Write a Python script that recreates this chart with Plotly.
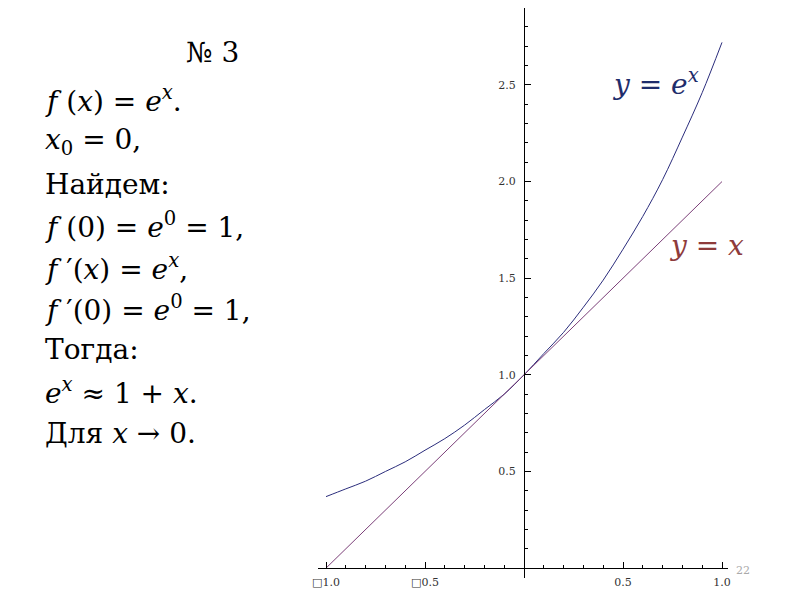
import plotly.graph_objects as go

# ---- data ----
x_vals = [-1.0, -0.9, -0.8, -0.7, -0.6, -0.5, -0.4, -0.3, -0.2, -0.1, 0.0,
          0.1, 0.2, 0.3, 0.4, 0.5, 0.6, 0.7, 0.8, 0.9, 1.0]
exp_vals = [0.37, 0.41, 0.45, 0.50, 0.55, 0.61, 0.67, 0.74, 0.82, 0.90, 1.00,
            1.11, 1.22, 1.35, 1.49, 1.65, 1.82, 2.01, 2.23, 2.46, 2.72]
tangent_x = [-1.0, 1.0]
tangent_y = [0.0, 2.0]

x_tickvals = [-1.0, -0.5, 0.5, 1.0]
x_ticktext = ["\u25a11.0", "\u25a10.5", "0.5", "1.0"]
y_tickvals = [0.5, 1.0, 1.5, 2.0, 2.5]
y_ticktext = ["0.5", "1.0", "1.5", "2.0", "2.5"]

text_lines = [
    "<i>f</i> (<i>x</i>) = <i>e</i><sup><i>x</i></sup>.",
    "<i>x</i><sub>0</sub> = 0,",
    "Найдем:",
    "<i>f</i> (0) = <i>e</i><sup>0</sup> = 1,",
    "<i>f</i> \u2032(<i>x</i>) = <i>e</i><sup><i>x</i></sup>,",
    "<i>f</i> \u2032(0) = <i>e</i><sup>0</sup> = 1,",
    "Тогда:",
    "<i>e</i><sup><i>x</i></sup> \u2248 1 + <i>x</i>.",
    "Для <i>x</i> \u2192 0.",
]
text_y_px = [99, 141, 184, 226, 267, 308, 349, 391, 433]

# the page body has an 8px margin, so the figure starts at (8, 8) on screen
OFF = 8
W, H = 800 - OFF, 600 - OFF
SERIF = "DejaVu Serif"


def px(xs):
    return (xs - OFF) / W


def py(ys):
    return 1 - (ys - OFF) / H


# axis geometry (screen pixels)
xr = [-1.0404, 1.0303]
xdom = [px(318), px(728)]
yr = [-0.05, 2.898]
ydom = [py(577.8), 1.0]

xaxis_pos = ydom[0] + (0 - yr[0]) / (yr[1] - yr[0]) * (ydom[1] - ydom[0])
yaxis_pos = xdom[0] + (0 - xr[0]) / (xr[1] - xr[0]) * (xdom[1] - xdom[0])

fig = go.Figure()
fig.add_trace(go.Scatter(x=x_vals, y=exp_vals, mode="lines", line_shape="spline",
                         line=dict(color="#2b2d7c", width=1), hoverinfo="skip"))
fig.add_trace(go.Scatter(x=tangent_x, y=tangent_y, mode="lines",
                         line=dict(color="#7b3f78", width=1), hoverinfo="skip"))

tickfont = dict(family=SERIF, size=11, color="#333333")
fig.update_layout(
    width=W, height=H,
    margin=dict(l=0, r=0, t=0, b=0, autoexpand=False),
    paper_bgcolor="white", plot_bgcolor="white",
    showlegend=False,
    xaxis=dict(range=xr, domain=xdom, anchor="free", position=xaxis_pos, automargin=False,
               showgrid=False, zeroline=False, showline=True, linecolor="black", linewidth=1,
               tickmode="array", tickvals=x_tickvals, ticktext=x_ticktext,
               ticks="inside", ticklen=6, tickcolor="black", tickwidth=1,
               tickfont=tickfont, ticklabelstandoff=4,
               minor=dict(tick0=0, dtick=0.1, ticks="inside", ticklen=3,
                          tickcolor="black", showgrid=False)),
    yaxis=dict(range=yr, domain=ydom, anchor="free", position=yaxis_pos, automargin=False,
               showgrid=False, zeroline=False, showline=True, linecolor="black", linewidth=1,
               tickmode="array", tickvals=y_tickvals, ticktext=y_ticktext,
               ticks="inside", ticklen=6, tickcolor="black", tickwidth=1,
               tickfont=tickfont, ticklabelstandoff=6,
               minor=dict(tick0=0, dtick=0.1, ticks="inside", ticklen=3,
                          tickcolor="black", showgrid=False)),
)

anns = []
anns.append(dict(text="№ 3", x=px(212), y=py(52), xref="paper", yref="paper",
                 xanchor="center", yanchor="middle", showarrow=False,
                 font=dict(family=SERIF, size=28, color="black")))
for t, yy in zip(text_lines, text_y_px):
    anns.append(dict(text=t, x=px(43), y=py(yy), xref="paper", yref="paper",
                     xanchor="left", yanchor="middle", showarrow=False,
                     font=dict(family=SERIF, size=28, color="black")))
anns.append(dict(text="<i>y</i> = <i>e</i><sup><i>x</i></sup>", x=px(610), y=py(82),
                 xref="paper", yref="paper", xanchor="left", yanchor="middle",
                 showarrow=False, font=dict(family=SERIF, size=28, color="#1f2d6b")))
anns.append(dict(text="<i>y</i> = <i>x</i>", x=px(667), y=py(246),
                 xref="paper", yref="paper", xanchor="left", yanchor="middle",
                 showarrow=False, font=dict(family=SERIF, size=28, color="#8e3b3b")))
anns.append(dict(text="22", x=px(743), y=py(570), xref="paper", yref="paper",
                 xanchor="center", yanchor="middle", showarrow=False,
                 font=dict(family=SERIF, size=11, color="#aaaaaa")))
fig.update_layout(annotations=anns)

fig.write_html("out.html")
